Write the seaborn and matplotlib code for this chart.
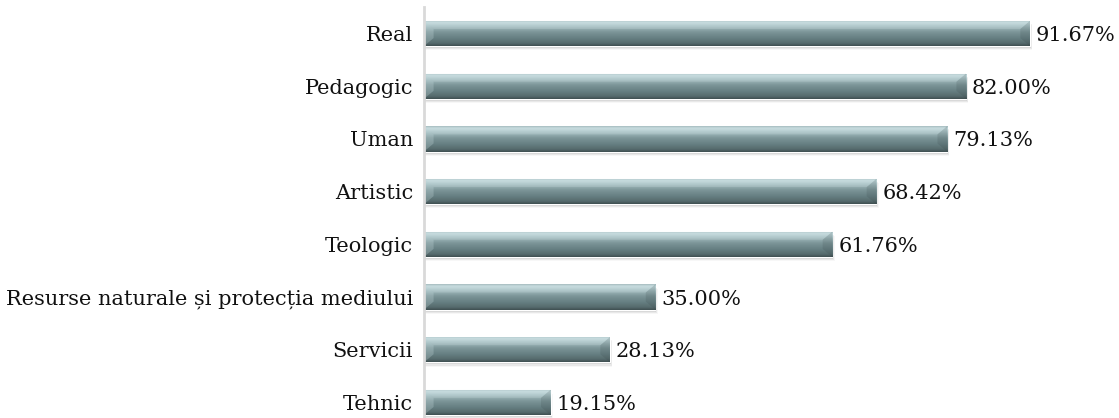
import numpy as np
import matplotlib
matplotlib.use("Agg")
import matplotlib.pyplot as plt
from matplotlib.colors import LinearSegmentedColormap
from matplotlib.patches import Polygon, Rectangle
import seaborn as sns
import pandas as pd

categories = ["Real", "Pedagogic", "Uman", "Artistic", "Teologic",
              "Resurse naturale și protecția mediului", "Servicii", "Tehnic"]
values = [91.67, 82.00, 79.13, 68.42, 61.76, 35.00, 28.13, 19.15]
value_labels = ["91.67%", "82.00%", "79.13%", "68.42%", "61.76%", "35.00%", "28.13%", "19.15%"]

df = pd.DataFrame({"profil": categories, "procent": values})

sns.set_theme(style="white")
plt.rcParams["font.family"] = ["DejaVu Serif"]

W, H = 1119, 418
fig = plt.figure(figsize=(W / 100, H / 100), dpi=100)
ax = fig.add_axes([424 / W, 0, 1 - 424 / W, (H - 7) / H])

bar_h = 0.48
sns.barplot(data=df, x="procent", y="profil", orient="h", ax=ax,
            color="#6b8588", width=bar_h, saturation=1, zorder=3)

ax.set_xlim(0, (W - 424) / 6.61)
ax.set_ylim((H - 33.5) / 52.7, (7 - 33.5) / 52.7)

# glossy vertical gradient for each bar
grad_cmap = LinearSegmentedColormap.from_list(
    "gloss",
    [(0.0, "#9fb6b9"), (0.08, "#c3dadd"), (0.22, "#a9c2c5"), (0.45, "#7d9699"),
     (0.7, "#667f82"), (0.9, "#566b6d"), (1.0, "#3f4f51")])
grad = np.linspace(0, 1, 64).reshape(-1, 1)

for p in list(ax.patches):
    x0, y0 = p.get_x(), p.get_y()
    w, h = p.get_width(), p.get_height()
    x1, y1 = x0 + w, y0 + h
    # soft shadow under the bar
    for k, a in enumerate([0.10, 0.06, 0.03]):
        ax.add_patch(Rectangle((x0 + 0.15, y0 + 0.04 + k * 0.02), w + 0.1 * k, h,
                               facecolor="black", alpha=a, edgecolor="none", zorder=2))
    im = ax.imshow(grad, cmap=grad_cmap, aspect="auto", origin="upper",
                   extent=(x0, x1, y1, y0), zorder=4, interpolation="bicubic")
    im.set_clip_path(p)
    d = 1.45
    e = h * 0.32
    # bevelled ends and top edge
    ax.add_patch(Polygon([(x0, y0), (x0 + d, y0 + e), (x0 + d, y1 - e), (x0, y1)],
                         closed=True, facecolor="#cfe3e6", alpha=0.25,
                         edgecolor="none", zorder=5))
    ax.add_patch(Polygon([(x1, y0), (x1 - d, y0 + e), (x1 - d, y1 - e), (x1, y1)],
                         closed=True, facecolor="#2f3c3e", alpha=0.15,
                         edgecolor="none", zorder=5))
    ax.add_patch(Polygon([(x0, y0), (x1, y0), (x1 - d, y0 + e), (x0 + d, y0 + e)],
                         closed=True, facecolor="#e2f0f2", alpha=0.18,
                         edgecolor="none", zorder=5))
    p.set_facecolor("none")

for i, (v, lab) in enumerate(zip(values, value_labels)):
    ax.text(v + 0.9, i, lab, va="center_baseline", ha="left",
            fontsize=15, color="#111111", zorder=6)

ax.set_xlabel("")
ax.set_ylabel("")
ax.set_xticks([])
ax.tick_params(axis="y", length=0, pad=8, labelsize=15, labelcolor="#111111")
for s in ["top", "right", "bottom"]:
    ax.spines[s].set_visible(False)
ax.spines["left"].set_color("#d9d9d9")
ax.spines["left"].set_linewidth(2)
ax.spines["left"].set_zorder(7)

fig.savefig("out.png", dpi=100)
